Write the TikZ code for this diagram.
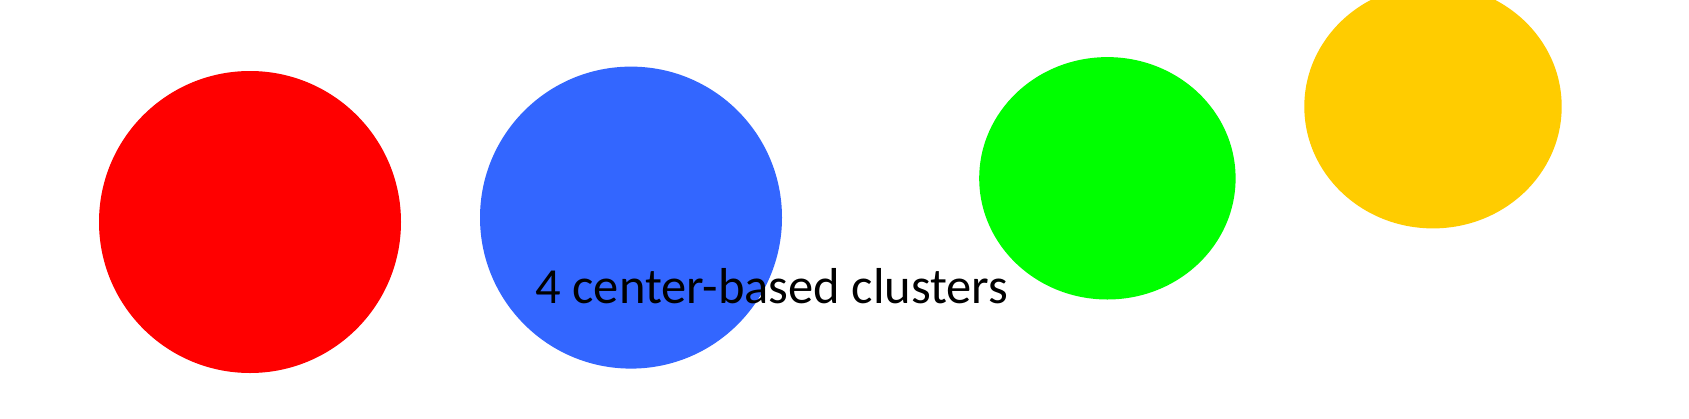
\documentclass[tikz,border=0pt]{standalone}
\usepackage{fontspec}
\setmainfont{Carlito}
\definecolor{cred}{HTML}{FF0000}
\definecolor{cblue}{HTML}{3366FF}
\definecolor{cgreen}{HTML}{00FF00}
\definecolor{cyellow}{HTML}{FFCC00}
\begin{document}
\begin{tikzpicture}[x=1pt,y=-1pt,
  blob/.style={draw=none}]
\useasboundingbox (0,0) rectangle (1689,418);
\fill[white] (0,0) rectangle (1689,418);
\fill[cred]    (250,222)   circle [x radius=151, y radius=151];
\fill[cblue]   (631,217.6) circle [x radius=151, y radius=151];
\fill[cgreen]  (1107.4,178.3) circle [x radius=128.2, y radius=121.2];
\fill[cyellow] (1433,106.6) circle [x radius=128.7, y radius=121.8];
\node[anchor=base, inner sep=0pt, font=\fontsize{50.5}{60}\selectfont] (lbl) at (772,303) {4 center-based clusters};
\end{tikzpicture}
\end{document}
